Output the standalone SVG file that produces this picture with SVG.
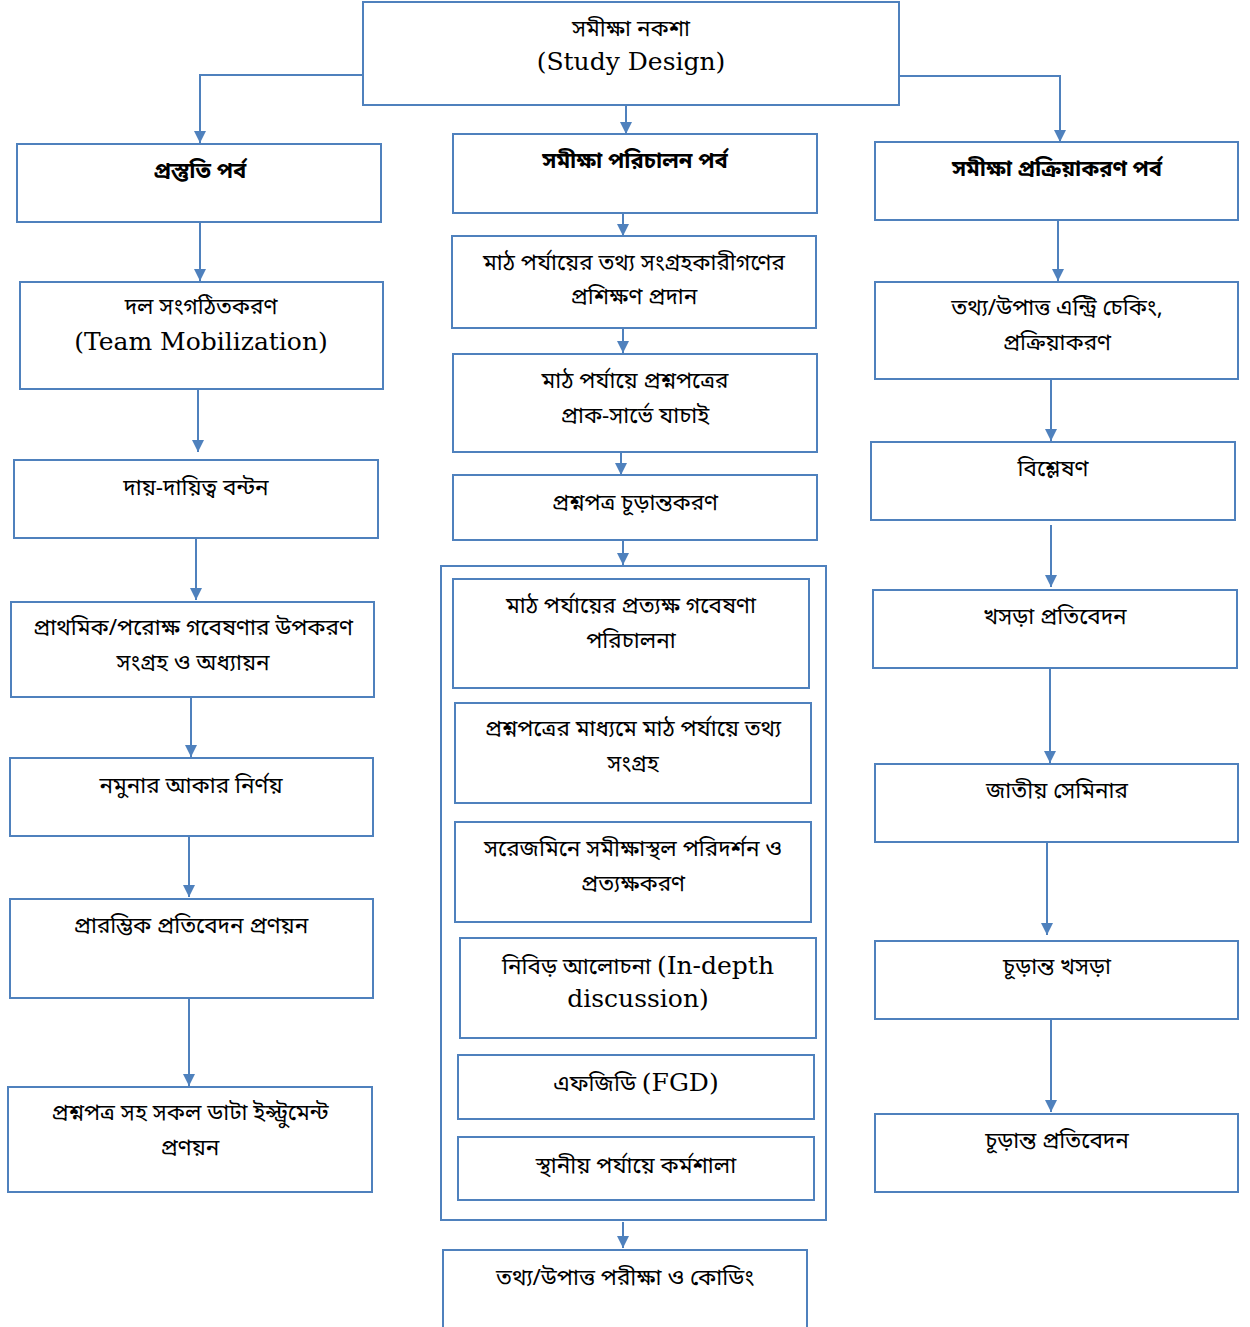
<svg xmlns="http://www.w3.org/2000/svg" width="1250" height="1327" viewBox="0 0 1250 1327">
<defs>
<marker id="ah" markerWidth="12" markerHeight="12" viewBox="0 0 12 12" refX="12" refY="6" orient="auto" markerUnits="userSpaceOnUse">
<path d="M0,0 L12,6 L0,12 Z" fill="#4F81BD"/>
</marker>
<style>
.b{fill:#fff;stroke:#4F81BD;stroke-width:2}
.c{fill:none;stroke:#4F81BD;stroke-width:2}
.t{font-family:"Noto Sans Bengali","Noto Sans","DejaVu Sans",sans-serif;font-size:22.5px;fill:#000;text-anchor:middle}
.h{font-weight:bold;font-size:22px}
.e{font-family:"DejaVu Serif","Liberation Serif",serif;font-size:25px}
</style>
</defs>
<rect width="1250" height="1327" fill="#fff"/>
<g id="connectors">
<path class="c" d="M363,75 H200 V143" marker-end="url(#ah)"/>
<path class="c" d="M626,100 V134" marker-end="url(#ah)"/>
<path class="c" d="M899,76 H1060 V142" marker-end="url(#ah)"/>
<path class="c" d="M200,222 V281" marker-end="url(#ah)"/>
<path class="c" d="M198,389 V452" marker-end="url(#ah)"/>
<path class="c" d="M196,538 V600" marker-end="url(#ah)"/>
<path class="c" d="M191,697 V757" marker-end="url(#ah)"/>
<path class="c" d="M189,836 V897" marker-end="url(#ah)"/>
<path class="c" d="M189,998 V1086" marker-end="url(#ah)"/>
<path class="c" d="M623,213 V236" marker-end="url(#ah)"/>
<path class="c" d="M623,328 V353" marker-end="url(#ah)"/>
<path class="c" d="M621,452 V475" marker-end="url(#ah)"/>
<path class="c" d="M623,540 V565" marker-end="url(#ah)"/>
<path class="c" d="M623,1222 V1248" marker-end="url(#ah)"/>
<path class="c" d="M1058,220 V281" marker-end="url(#ah)"/>
<path class="c" d="M1051,379 V441" marker-end="url(#ah)"/>
<path class="c" d="M1051,525 V587" marker-end="url(#ah)"/>
<path class="c" d="M1050,668 V763" marker-end="url(#ah)"/>
<path class="c" d="M1047,840 V935" marker-end="url(#ah)"/>
<path class="c" d="M1051,1019 V1112" marker-end="url(#ah)"/>
</g>
<g id="n-top"><rect class="b" x="363" y="2" width="536" height="103"/>
<text class="t" x="631" y="36">সমীক্ষা নকশা</text>
<text class="t e" x="631" y="70">(Study Design)</text></g>

<g id="n-l1"><rect class="b" x="17" y="144" width="364" height="78"/><text class="t h" x="200" y="178">প্রস্তুতি পর্ব</text></g>
<g id="n-l2"><rect class="b" x="20" y="282" width="363" height="107"/><text class="t" x="201" y="314">দল সংগঠিতকরণ</text><text class="t e" x="201" y="350">(Team Mobilization)</text></g>
<g id="n-l3"><rect class="b" x="14" y="460" width="364" height="78"/><text class="t" x="196" y="495">দায়-দায়িত্ব বন্টন</text></g>
<g id="n-l4"><rect class="b" x="11" y="602" width="363" height="95"/><text class="t" x="193" y="635">প্রাথমিক/পরোক্ষ গবেষণার উপকরণ</text><text class="t" x="193" y="670">সংগ্রহ ও অধ্যায়ন</text></g>
<g id="n-l5"><rect class="b" x="10" y="758" width="363" height="78"/><text class="t" x="191" y="793">নমুনার আকার নির্ণয়</text></g>
<g id="n-l6"><rect class="b" x="10" y="899" width="363" height="99"/><text class="t" x="191" y="933">প্রারম্ভিক প্রতিবেদন প্রণয়ন</text></g>
<g id="n-l7"><rect class="b" x="8" y="1087" width="364" height="105"/><text class="t" x="190" y="1120">প্রশ্নপত্র সহ সকল ডাটা ইন্স্ট্রুমেন্ট</text><text class="t" x="190" y="1155">প্রণয়ন</text></g>

<g id="n-m1"><rect class="b" x="453" y="134" width="364" height="79"/><text class="t h" x="635" y="168">সমীক্ষা পরিচালন পর্ব</text></g>
<g id="n-m2"><rect class="b" x="452" y="236" width="364" height="92"/><text class="t" x="634" y="270">মাঠ পর্যায়ের তথ্য সংগ্রহকারীগণের</text><text class="t" x="634" y="304">প্রশিক্ষণ প্রদান</text></g>
<g id="n-m3"><rect class="b" x="453" y="354" width="364" height="98"/><text class="t" x="635" y="388">মাঠ পর্যায়ে প্রশ্নপত্রের</text><text class="t" x="635" y="423">প্রাক-সার্ভে যাচাই</text></g>
<g id="n-m4"><rect class="b" x="453" y="475" width="364" height="65"/><text class="t" x="635" y="510">প্রশ্নপত্র চূড়ান্তকরণ</text></g>
<g id="n-mc"><rect class="b" x="441" y="566" width="385" height="654"/></g>
<g id="n-ma"><rect class="b" x="453" y="579" width="356" height="109"/><text class="t" x="631" y="613">মাঠ পর্যায়ের প্রত্যক্ষ গবেষণা</text><text class="t" x="631" y="648">পরিচালনা</text></g>
<g id="n-mb"><rect class="b" x="455" y="703" width="356" height="100"/><text class="t" x="633" y="736">প্রশ্নপত্রের মাধ্যমে মাঠ পর্যায়ে তথ্য</text><text class="t" x="633" y="771">সংগ্রহ</text></g>
<g id="n-mcc"><rect class="b" x="455" y="822" width="356" height="100"/><text class="t" x="633" y="856">সরেজমিনে সমীক্ষাস্থল পরিদর্শন ও</text><text class="t" x="633" y="891">প্রত্যক্ষকরণ</text></g>
<g id="n-md"><rect class="b" x="460" y="938" width="356" height="100"/><text class="t" x="638" y="974"><tspan>নিবিড় আলোচনা </tspan><tspan class="e">(In-depth</tspan></text><text class="t e" x="638" y="1007">discussion)</text></g>
<g id="n-me"><rect class="b" x="458" y="1055" width="356" height="64"/><text class="t" x="636" y="1091"><tspan>এফজিডি </tspan><tspan class="e">(FGD)</tspan></text></g>
<g id="n-mf"><rect class="b" x="458" y="1137" width="356" height="63"/><text class="t" x="636" y="1173">স্থানীয় পর্যায়ে কর্মশালা</text></g>
<g id="n-m5"><path class="c" d="M443,1330 V1250 H807 V1330"/><text class="t" x="625" y="1285">তথ্য/উপাত্ত পরীক্ষা ও কোডিং</text></g>

<g id="n-r1"><rect class="b" x="875" y="142" width="363" height="78"/><text class="t h" x="1057" y="176">সমীক্ষা প্রক্রিয়াকরণ পর্ব</text></g>
<g id="n-r2"><rect class="b" x="875" y="282" width="363" height="97"/><text class="t" x="1057" y="315">তথ্য/উপাত্ত এন্ট্রি চেকিং,</text><text class="t" x="1057" y="350">প্রক্রিয়াকরণ</text></g>
<g id="n-r3"><rect class="b" x="871" y="442" width="364" height="78"/><text class="t" x="1053" y="476">বিশ্লেষণ</text></g>
<g id="n-r4"><rect class="b" x="873" y="590" width="364" height="78"/><text class="t" x="1055" y="624">খসড়া প্রতিবেদন</text></g>
<g id="n-r5"><rect class="b" x="875" y="764" width="363" height="78"/><text class="t" x="1057" y="798">জাতীয় সেমিনার</text></g>
<g id="n-r6"><rect class="b" x="875" y="941" width="363" height="78"/><text class="t" x="1057" y="974">চূড়ান্ত খসড়া</text></g>
<g id="n-r7"><rect class="b" x="875" y="1114" width="363" height="78"/><text class="t" x="1057" y="1148">চূড়ান্ত প্রতিবেদন</text></g>
</svg>
